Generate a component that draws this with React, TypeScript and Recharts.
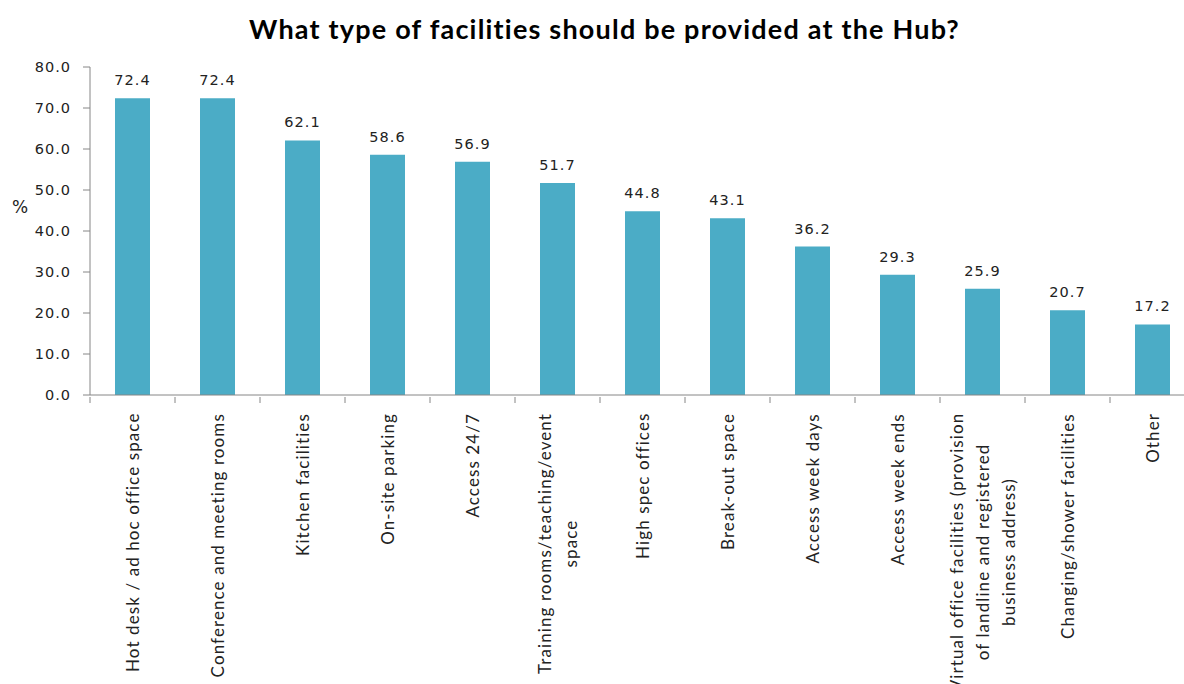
import React from 'react';
import { BarChart, Bar, XAxis, YAxis, LabelList } from 'recharts';

// facilities asked about, in the order shown (\n marks a line break in the axis label)
const facilities = [
  'Hot desk / ad hoc office space',
  'Conference and meeting rooms',
  'Kitchen facilities',
  'On-site parking',
  'Access 24/7',
  'Training rooms/teaching/event\nspace',
  'High spec offices',
  'Break-out space',
  'Access week days',
  'Access week ends',
  'Virtual office facilities (provision\nof landline and registered\nbusiness address)',
  'Changing/shower facilities',
  'Other',
];

// % of respondents
const percentages = [72.4, 72.4, 62.1, 58.6, 56.9, 51.7, 44.8, 43.1, 36.2, 29.3, 25.9, 20.7, 17.2];

const yTicks = [0, 10, 20, 30, 40, 50, 60, 70, 80];

const data = facilities.map((name, i) => ({ name, value: percentages[i] }));

const BAR_COLOR = '#4BACC6';
const AXIS_COLOR = '#868686';
const LABEL_SIZE = 17;
const LABEL_SPACING = 1.1;
const LABEL_FONT = `${LABEL_SIZE}px Lato`;
const BAND = 85;
const NUM_STYLE = { fill: '#222', fontSize: 14.5, fontFamily: '"DejaVu Sans"', letterSpacing: 1 };

let canvasCtx: CanvasRenderingContext2D | null = null;
const measure = (text: string) => {
  if (!canvasCtx) canvasCtx = document.createElement('canvas').getContext('2d');
  if (!canvasCtx) return text.length * 8;
  canvasCtx.font = LABEL_FONT;
  return canvasCtx.measureText(text).width + text.length * LABEL_SPACING;
};

const CategoryTick = (props: any) => {
  const { x, y, payload } = props;
  const lines = String(payload.value).split('\n');
  const maxW = Math.max(...lines.map(measure));
  const lineH = 26;
  const n = lines.length;
  return (
    <g transform={`translate(${x},${y})`}>
      <line x1={-BAND / 2} y1={0} x2={-BAND / 2} y2={6} stroke={AXIS_COLOR} />
      <g transform="rotate(-90)">
        {lines.map((line, i) => (
          <text
            key={i}
            x={-(16 + maxW / 2)}
            y={(i - (n - 1) / 2) * lineH + 6}
            textAnchor="middle"
            fontFamily="Lato"
            fontSize={LABEL_SIZE}
            letterSpacing={LABEL_SPACING}
            fill="#222"
          >
            {line}
          </text>
        ))}
      </g>
    </g>
  );
};

export default function App() {
  return (
    <div style={{ position: 'absolute', left: 0, top: 0, width: 1184, height: 684, overflow: 'hidden', background: '#fff' }}>
      <div
        style={{
          position: 'absolute',
          left: 0,
          top: 14,
          width: 1209,
          textAlign: 'center',
          fontFamily: 'Lato',
          fontWeight: 700,
          fontSize: 27,
          letterSpacing: 1.2,
          lineHeight: '30px',
          color: '#000',
        }}
      >
        What type of facilities should be provided at the Hub?
      </div>
      <div
        style={{
          position: 'absolute',
          left: 12,
          top: 197,
          fontFamily: '"DejaVu Sans"',
          fontSize: 17,
          color: '#222',
        }}
      >
        %
      </div>
      <BarChart
        width={1196}
        height={684}
        data={data}
        margin={{ top: 67, right: 1, bottom: 0, left: 0 }}
      >
        <YAxis
          width={90}
          domain={[0, 80]}
          ticks={yTicks}
          interval={0}
          tickFormatter={(v: number) => v.toFixed(1)}
          tick={NUM_STYLE}
          tickSize={7}
          tickMargin={12}
          axisLine={{ stroke: AXIS_COLOR }}
          tickLine={{ stroke: AXIS_COLOR }}
        />
        <XAxis
          dataKey="name"
          height={289}
          interval={0}
          tickLine={false}
          tickSize={0}
          tick={<CategoryTick />}
          axisLine={{ stroke: AXIS_COLOR }}
        />
        <Bar dataKey="value" fill={BAR_COLOR} barSize={35} isAnimationActive={false}>
          <LabelList
            dataKey="value"
            position="top"
            offset={13}
            formatter={(v: number) => v.toFixed(1)}
            style={NUM_STYLE}
          />
        </Bar>
      </BarChart>
    </div>
  );
}
